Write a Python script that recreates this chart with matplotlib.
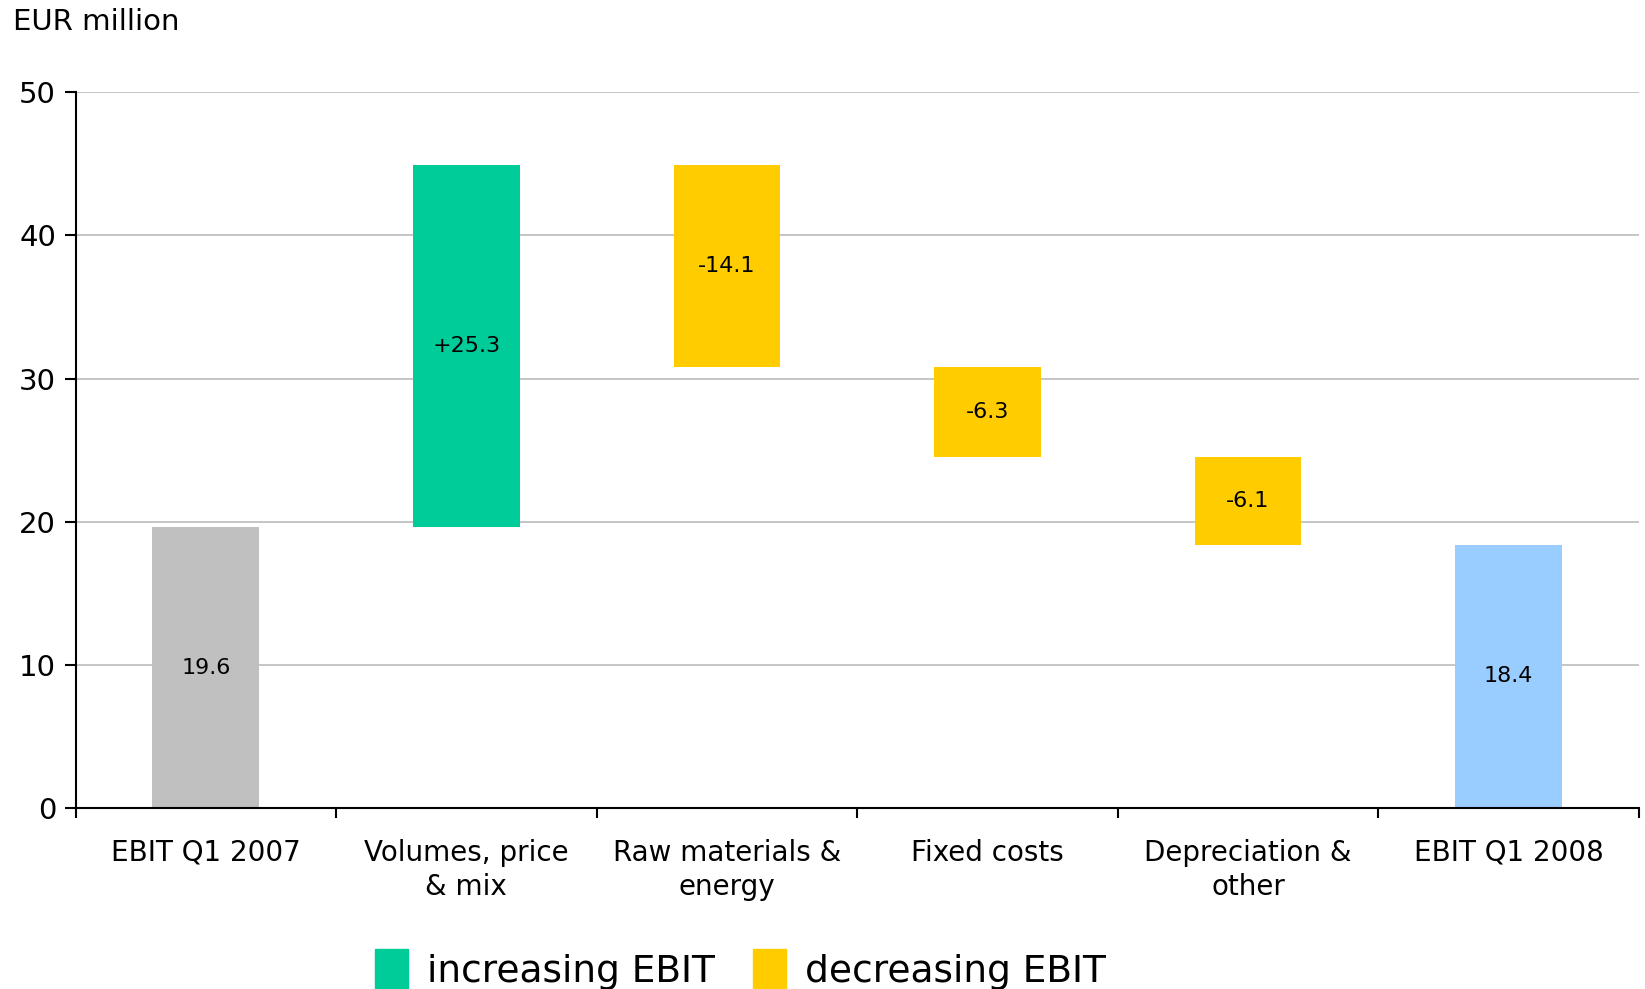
import matplotlib
matplotlib.use("Agg")
import matplotlib.pyplot as plt
from matplotlib.patches import Patch

# EBIT bridge Q1 2007 -> Q1 2008, EUR million
categories = ["EBIT Q1 2007", "Volumes, price\n& mix", "Raw materials &\nenergy",
              "Fixed costs", "Depreciation &\nother", "EBIT Q1 2008"]
changes = [19.6, 25.3, -14.1, -6.3, -6.1, 18.4]
labels = ["19.6", "+25.3", "-14.1", "-6.3", "-6.1", "18.4"]
kinds = ["total", "step", "step", "step", "step", "total"]

colors = {"start": "#c0c0c0", "up": "#00cc99", "down": "#ffcc00", "end": "#99ccff"}

plt.rcParams['font.family'] = ['DejaVu Sans']

fig = plt.figure(figsize=(16.45, 9.89), dpi=100)
ax = fig.add_axes([0.0459, 0.183, 0.9504, 0.7237])

running = 0
for i, (val, kind) in enumerate(zip(changes, kinds)):
    if kind == "total":
        bottom, height = 0, val
        col = colors["start"] if i == 0 else colors["end"]
        running = val
    else:
        if val >= 0:
            bottom, height = running, val
            col = colors["up"]
        else:
            bottom, height = running + val, -val
            col = colors["down"]
        running += val
    ax.bar(i, height, bottom=bottom, width=0.41, color=col, zorder=2)
    ax.text(i, bottom + height / 2, labels[i], ha="center", va="center",
            fontsize=16, zorder=3)

ax.set_xlim(-0.5, len(categories) - 0.5)
ax.set_ylim(0, 50)
ax.set_yticks(range(0, 51, 10))
ax.yaxis.grid(True, color="#c0c0c0", linewidth=1.3, zorder=0)
ax.set_axisbelow(True)

ax.set_xticks(range(len(categories)))
ax.set_xticklabels(categories, fontsize=20, linespacing=1.3)
ax.set_xticks([x - 0.5 for x in range(len(categories) + 1)], minor=True)
ax.tick_params(axis="x", which="major", length=0, pad=22)
ax.tick_params(axis="x", which="minor", length=7, width=1.5, direction="out")
ax.tick_params(axis="y", labelsize=21, length=8, width=1.5, pad=6)

for s in ["top", "right"]:
    ax.spines[s].set_visible(False)
ax.spines["left"].set_linewidth(1.5)
ax.spines["bottom"].set_linewidth(1.5)

fig.text(0.008, 0.978, "EUR million", fontsize=21, ha="left", va="center")

handles = [Patch(color=colors["up"], label="increasing EBIT"),
           Patch(color=colors["down"], label="decreasing EBIT")]
fig.legend(handles=handles, loc="lower center", bbox_to_anchor=(0.45, -0.035),
           ncol=2, frameon=False, fontsize=27, handlelength=0.9, handleheight=1.3,
           handletextpad=0.5, columnspacing=1.0)

fig.savefig("out.png", dpi=100)
